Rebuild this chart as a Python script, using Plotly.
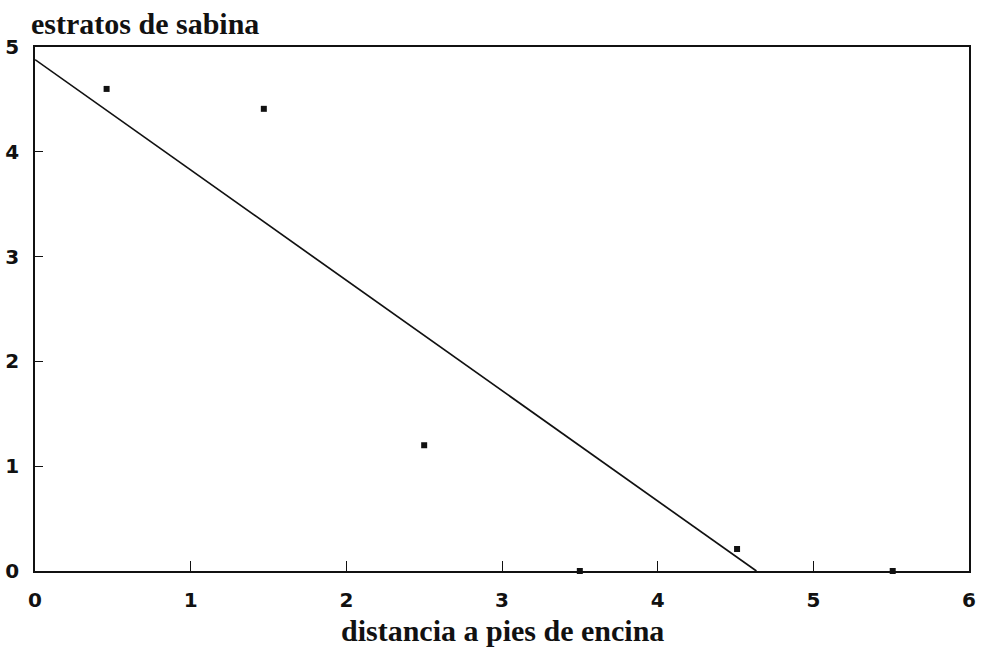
import plotly.graph_objects as go

# distance to holm oak stems vs. number of juniper strata
distancia = [0.46, 1.47, 2.50, 3.50, 4.51, 5.51]
estratos = [4.60, 4.41, 1.20, 0.00, 0.21, 0.00]

# fitted straight line (intercept, slope), drawn down to where it meets zero
intercepto = 4.88
pendiente = -1.053
linea_x = [0.0, -intercepto / pendiente]
linea_y = [intercepto + pendiente * x for x in linea_x]

x_ticks = [0, 1, 2, 3, 4, 5, 6]
y_ticks = [0, 1, 2, 3, 4, 5]

fig = go.Figure()
fig.add_trace(go.Scatter(
    x=linea_x, y=linea_y, mode="lines",
    line=dict(color="#111111", width=1.7),
    showlegend=False, hoverinfo="skip",
))
fig.add_trace(go.Scatter(
    x=distancia, y=estratos, mode="markers",
    marker=dict(symbol="square", size=6, color="#111111"),
    showlegend=False, cliponaxis=False,
))

tick_font = dict(family="DejaVu Sans", size=20, color="#111111", weight="bold")
axis_common = dict(
    showgrid=False, zeroline=False, automargin=False,
    showline=True, linecolor="#111111", linewidth=1.7, mirror=True,
    ticks="inside", tickcolor="#111111", tickwidth=1.4,
    tickfont=tick_font,
)

fig.update_xaxes(range=[0, 6], tickvals=x_ticks, ticklen=10,
                 ticklabelstandoff=10, **axis_common)
fig.update_yaxes(range=[0, 5], tickvals=y_ticks, ticklen=8,
                 ticklabelstandoff=10, **axis_common)

title_font = dict(family="Liberation Serif", size=30, color="#111111", weight="bold")
fig.add_annotation(
    text="estratos de sabina", xref="paper", yref="paper",
    x=0, y=1, xanchor="left", yanchor="bottom", xshift=-6, yshift=5,
    showarrow=False, font=title_font,
)
fig.add_annotation(
    text="distancia a pies de encina", xref="paper", yref="paper",
    x=0.5, y=0, xanchor="center", yanchor="top", yshift=-41,
    showarrow=False, font=title_font,
)

fig.update_layout(
    width=982, height=657,
    margin=dict(l=35, r=13, t=47, b=86),
    paper_bgcolor="white", plot_bgcolor="white",
)

fig.write_html("out.html")
